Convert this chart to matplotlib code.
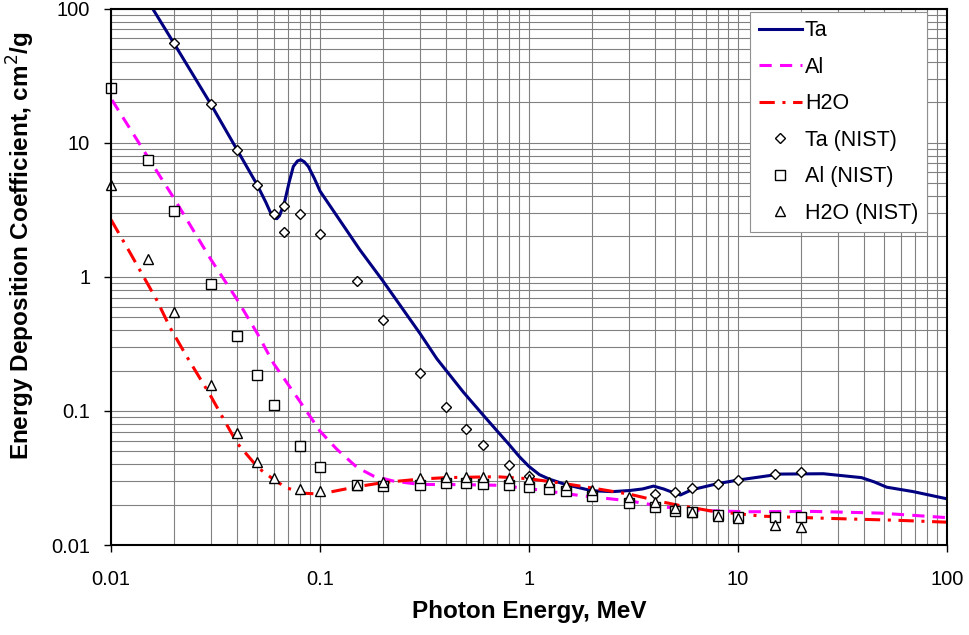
import matplotlib
matplotlib.use("Agg")
from matplotlib import pyplot as plt
from matplotlib.ticker import LogLocator, NullFormatter

plt.rcParams['font.family'] = ['Liberation Sans', 'DejaVu Sans']

# calculated curves
ta_e = [0.015, 0.0158, 0.02, 0.03, 0.04, 0.05, 0.055, 0.0577, 0.0605, 0.0621, 0.064,
        0.0675, 0.071, 0.0745, 0.078, 0.0809, 0.084, 0.0879, 0.094, 0.1, 0.155, 0.2,
        0.3, 0.362, 0.485, 0.6, 0.7, 0.8, 0.9, 1.0, 1.12, 1.25, 1.5, 2.0, 2.5, 3.04, 3.5, 3.94,
        4.4, 5.0, 5.3, 6.0, 8.0, 10.0, 15.9, 25.6, 39.0, 45.0, 51.4, 69.0, 100.0]
ta_mu = [113, 100, 55, 19.4, 8.9, 4.85, 3.6, 3.05, 2.75, 2.71, 2.85,
         3.55, 5.0, 6.64, 7.3, 7.45, 7.2, 6.64, 5.4, 4.35, 1.59, 0.93,
         0.38, 0.245, 0.138, 0.094, 0.0715, 0.0565, 0.0455, 0.0385, 0.0335, 0.031, 0.0282, 0.0254, 0.025, 0.0255, 0.0262, 0.0275,
         0.0262, 0.0243, 0.0236, 0.0258, 0.0287, 0.0305, 0.0338, 0.034, 0.0318, 0.0295, 0.027, 0.025, 0.0221]

al_e = [0.0101, 0.015, 0.02, 0.03, 0.04, 0.05, 0.06, 0.08, 0.1, 0.12, 0.15, 0.18, 0.224,
        0.3, 0.467, 0.7, 1.01, 1.75, 3.04, 4.38, 5.9, 11.0, 23.0, 47.8, 100.0]
al_mu = [20.8, 7.8, 3.85, 1.35, 0.68, 0.38, 0.225, 0.118, 0.0706, 0.052, 0.038, 0.0327, 0.030,
         0.0283, 0.0282, 0.0279, 0.0263, 0.0234, 0.0213, 0.0193, 0.0182, 0.0177, 0.0178, 0.0173, 0.016]

w_e = [0.01, 0.0121, 0.0165, 0.0192, 0.023, 0.03, 0.04, 0.0505, 0.06, 0.069, 0.085, 0.1,
       0.15, 0.2, 0.3, 0.4, 0.7, 1.0, 1.46, 2.1, 3.04, 4.38, 5.27, 7.5, 13.1, 27.0, 57.0, 100.0]
w_mu = [2.66, 1.59, 0.676, 0.416, 0.255, 0.129, 0.0578, 0.0377, 0.0308, 0.0267, 0.0243, 0.024,
        0.0272, 0.0292, 0.031, 0.0318, 0.0323, 0.0312, 0.0288, 0.0263, 0.0239, 0.0209, 0.0197, 0.0179, 0.0164, 0.0158, 0.0153, 0.0148]

# NIST tabulated points
ta_nist_e = [0.02, 0.03, 0.04, 0.05, 0.06, 0.0674, 0.0674, 0.08, 0.1, 0.15, 0.2, 0.3, 0.4,
             0.5, 0.6, 0.8, 1.0, 4.0, 5.0, 6.0, 8.0, 10.0, 15.0, 20.0]
ta_nist = [55.6, 19.4, 8.84, 4.85, 2.95, 3.38, 2.14, 2.95, 2.09, 0.924, 0.48, 0.192, 0.107,
           0.0728, 0.0556, 0.0394, 0.0327, 0.0239, 0.025, 0.0264, 0.0287, 0.0307, 0.0336, 0.0348]

nist_e = [0.01, 0.015, 0.02, 0.03, 0.04, 0.05, 0.06, 0.08, 0.1, 0.15, 0.2, 0.3, 0.4, 0.5,
          0.6, 0.8, 1.0, 1.25, 1.5, 2.0, 3.0, 4.0, 5.0, 6.0, 8.0, 10.0, 15.0, 20.0]
al_nist = [25.6, 7.48, 3.09, 0.877, 0.36, 0.184, 0.110, 0.0552, 0.0379, 0.0278, 0.0275, 0.028, 0.0288, 0.0288,
           0.0287, 0.028, 0.0272, 0.026, 0.0251, 0.0232, 0.0207, 0.0192, 0.0179, 0.0176, 0.0166, 0.0163, 0.0163, 0.0163]
w_nist = [4.85, 1.36, 0.543, 0.155, 0.069, 0.0418, 0.0316, 0.026, 0.0254, 0.028, 0.0297, 0.0318, 0.0322, 0.0322,
          0.0322, 0.0318, 0.031, 0.0294, 0.0278, 0.0255, 0.0228, 0.0209, 0.019, 0.0177, 0.0165, 0.016, 0.0142, 0.0137]

ticks = [0.01, 0.1, 1, 10, 100]
tick_labels = ['0.01', '0.1', '1', '10', '100']

fig = plt.figure(figsize=(9.69, 6.35), dpi=100)
ax = fig.add_axes([0.1146, 0.1417, 0.8627, 0.8449])
ax.set_xscale('log')
ax.set_yscale('log')
ax.set_xlim(0.01, 100)
ax.set_ylim(0.01, 100)

# grid on every decade and sub-decade
ax.xaxis.set_minor_locator(LogLocator(base=10, subs=range(2, 10)))
ax.yaxis.set_minor_locator(LogLocator(base=10, subs=range(2, 10)))
ax.xaxis.set_minor_formatter(NullFormatter())
ax.yaxis.set_minor_formatter(NullFormatter())
ax.grid(which='both', color='#808080', lw=0.8)
ax.set_axisbelow(True)

lw = 2.2
ax.plot(ta_e, ta_mu, color='#000080', lw=lw, label='Ta')
ax.plot(al_e, al_mu, color='#FF00FF', lw=lw, dashes=(4, 2.7), label='Al')
ax.plot(w_e, w_mu, color='#FF0000', lw=lw, dashes=(5, 2.5, 1, 2.5), label='H2O')

ax.plot(ta_nist_e, ta_nist, ls='none', marker='D', ms=5, mfc='white', mec='black', mew=1,
        label='Ta (NIST)', clip_on=False)
ax.plot(nist_e, al_nist, ls='none', marker='s', ms=6.5, mfc='white', mec='black', mew=1,
        label='Al (NIST)', clip_on=False)
ax.plot(nist_e, w_nist, ls='none', marker='^', ms=6.5, mfc='white', mec='black', mew=1,
        label='H2O (NIST)', clip_on=False)

ax.set_xticks(ticks)
ax.set_xticklabels(tick_labels)
ax.set_yticks(ticks)
ax.set_yticklabels(tick_labels)
ax.tick_params(which='major', direction='out', length=5, width=1, labelsize=14.5, pad=13)
ax.tick_params(axis='y', pad=10)
ax.tick_params(which='minor', length=0)
for s in ax.spines.values():
    s.set_linewidth(1.5)

ax.set_xlabel('Photon Energy, MeV', fontsize=17.5, fontweight='bold', labelpad=8)
ax.set_ylabel('Energy Deposition Coefficient, cm$^2$/g', fontsize=17.5, fontweight='bold')
ax.yaxis.set_label_coords(-0.0885, 0.557)

leg = ax.legend(loc='upper right', bbox_to_anchor=(0.976, 0.994), fontsize=15.5, frameon=True,
                fancybox=False, framealpha=1, edgecolor='#909090', handlelength=2.0,
                handletextpad=0.15, labelspacing=0.72, borderpad=0.4, borderaxespad=0)
leg.get_frame().set_linewidth(0.8)

fig.savefig('out.png', dpi=100)
